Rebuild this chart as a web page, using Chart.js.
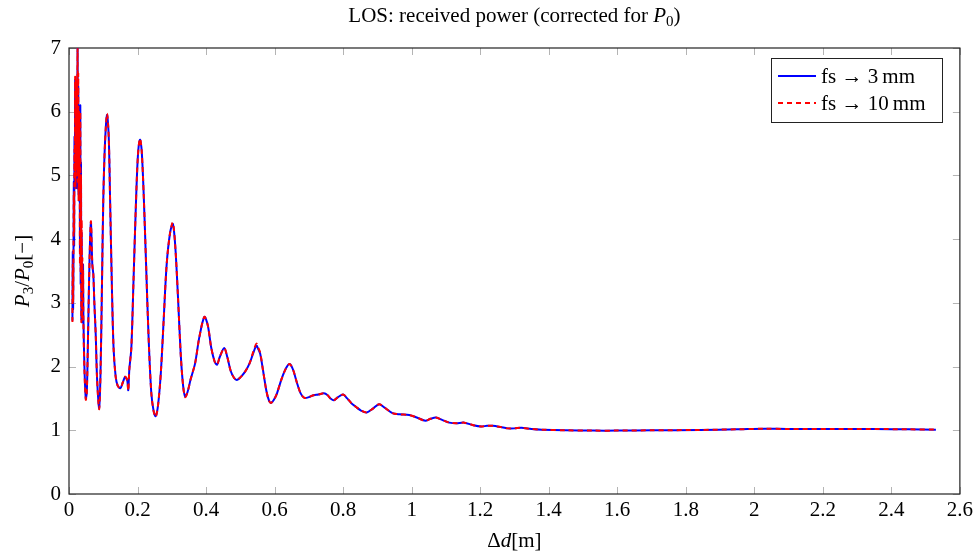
<!DOCTYPE html>
<html>
<head>
<meta charset="utf-8">
<script src="https://cdn.jsdelivr.net/npm/chart.js@4.4.1/dist/chart.umd.min.js"></script>
<style>
  html, body { margin: 0; padding: 0; background: #fff; }
  #wrap { width: 977px; height: 555px; }
</style>
</head>
<body>
<div id="wrap"><canvas id="losChart" width="977" height="555"></canvas></div>
<script>
// path length difference Δd [m]
const distance = [
  0.010, 0.011, 0.012, 0.013, 0.014, 0.015, 0.016, 0.017, 0.018, 0.019,
  0.020, 0.021, 0.022, 0.023, 0.024, 0.025, 0.026, 0.027, 0.028, 0.029,
  0.030, 0.031, 0.032, 0.033, 0.034, 0.035, 0.036, 0.037, 0.038, 0.039,
  0.040, 0.041, 0.042, 0.045, 0.049,
  0.052, 0.056, 0.060, 0.064, 0.068, 0.071, 0.074, 0.078, 0.082, 0.088,
  0.092, 0.096, 0.100, 0.105, 0.111, 0.116, 0.120, 0.125, 0.130, 0.136,
  0.142, 0.150, 0.157, 0.164, 0.170, 0.173, 0.176, 0.182, 0.188, 0.195,
  0.201, 0.207, 0.212, 0.218, 0.225, 0.232, 0.240, 0.247, 0.253, 0.260,
  0.268, 0.276, 0.285, 0.295, 0.303, 0.310, 0.318, 0.326, 0.333, 0.339,
  0.346, 0.355, 0.368, 0.380, 0.395, 0.405, 0.415, 0.425, 0.432, 0.440,
  0.453, 0.462, 0.472, 0.482, 0.490, 0.500, 0.514, 0.527, 0.537, 0.547,
  0.552, 0.558, 0.566, 0.576, 0.584, 0.590, 0.598, 0.607, 0.620, 0.634,
  0.644, 0.654, 0.665, 0.676, 0.687, 0.700, 0.714, 0.728, 0.744, 0.755,
  0.763, 0.773, 0.785, 0.800, 0.812, 0.825, 0.837, 0.852, 0.869, 0.887,
  0.905, 0.920, 0.944, 0.965, 0.993, 1.015, 1.040, 1.055, 1.071, 1.090,
  1.110, 1.130, 1.154, 1.180, 1.203, 1.220, 1.237, 1.260, 1.280, 1.300,
  1.320, 1.350, 1.380, 1.450, 1.530, 1.600, 1.700, 1.840, 1.950, 2.030,
  2.100, 2.230, 2.350, 2.450, 2.530
];

// P3/P0, free space -> 3 mm
const power3mm = [
  2.72, 3.80, 2.90, 3.60, 4.90, 3.90, 5.60, 4.80, 6.50, 5.00,
  6.40, 5.30, 6.30, 4.80, 6.00, 7.00, 5.10, 6.40, 4.70, 5.90,
  4.60, 6.00, 3.80, 6.10, 3.30, 5.20, 2.75, 4.10, 2.70, 3.60,
  3.30, 3.60, 2.80, 2.00, 1.50,
  1.60, 2.60, 3.70, 4.26, 3.60, 3.45, 3.00, 2.50, 1.80, 1.35,
  1.90, 3.20, 4.60, 5.50, 5.95, 5.60, 4.60, 3.30, 2.30, 1.85,
  1.70, 1.66, 1.75, 1.84, 1.78, 1.63, 1.95, 2.30, 3.30, 4.50,
  5.30, 5.56, 5.40, 4.70, 3.60, 2.50, 1.60, 1.30, 1.22, 1.40,
  1.90, 2.70, 3.60, 4.10, 4.24, 3.90, 3.10, 2.20, 1.70, 1.53,
  1.60, 1.80, 2.05, 2.45, 2.78, 2.65, 2.30, 2.08, 2.03, 2.15,
  2.29, 2.15, 1.93, 1.82, 1.79, 1.83, 1.92, 2.05, 2.20, 2.33,
  2.28, 2.20, 1.95, 1.62, 1.46, 1.43, 1.48, 1.58, 1.80, 1.98,
  2.04, 1.95, 1.75, 1.58, 1.51, 1.52, 1.55, 1.56, 1.58, 1.55,
  1.50, 1.47, 1.52, 1.56, 1.50, 1.42, 1.37, 1.31, 1.28, 1.34,
  1.41, 1.36, 1.27, 1.25, 1.24, 1.20, 1.15, 1.18, 1.20, 1.16,
  1.12, 1.11, 1.12, 1.08, 1.06, 1.07, 1.07, 1.05, 1.03, 1.03,
  1.04, 1.02, 1.01, 1.00, 0.995, 0.995, 1.00, 1.005, 1.015, 1.025,
  1.02, 1.02, 1.02, 1.015, 1.01
];

// P3/P0, free space -> 10 mm
const power10mm = [
  2.70, 3.60, 3.00, 3.80, 4.70, 4.10, 5.40, 5.00, 6.55, 4.80,
  6.50, 5.10, 6.10, 5.00, 6.20, 7.00, 4.90, 6.60, 4.60, 6.00,
  4.80, 5.80, 3.60, 6.00, 3.50, 5.00, 2.70, 4.30, 2.75, 3.70,
  3.20, 3.50, 2.70, 1.95, 1.48,
  1.60, 2.60, 3.70, 4.28, 3.62, 3.45, 3.00, 2.50, 1.80, 1.33,
  1.90, 3.20, 4.60, 5.50, 5.97, 5.60, 4.60, 3.30, 2.30, 1.85,
  1.70, 1.66, 1.75, 1.84, 1.78, 1.62, 1.95, 2.30, 3.30, 4.50,
  5.30, 5.58, 5.40, 4.70, 3.60, 2.50, 1.60, 1.30, 1.21, 1.40,
  1.90, 2.70, 3.60, 4.10, 4.26, 3.90, 3.10, 2.20, 1.70, 1.52,
  1.60, 1.80, 2.05, 2.45, 2.78, 2.65, 2.30, 2.08, 2.03, 2.15,
  2.29, 2.15, 1.93, 1.82, 1.79, 1.83, 1.92, 2.05, 2.22, 2.36,
  2.30, 2.22, 1.95, 1.62, 1.46, 1.43, 1.48, 1.58, 1.80, 1.98,
  2.04, 1.95, 1.75, 1.58, 1.51, 1.52, 1.55, 1.56, 1.58, 1.55,
  1.50, 1.47, 1.52, 1.56, 1.50, 1.42, 1.37, 1.31, 1.28, 1.34,
  1.41, 1.36, 1.27, 1.25, 1.24, 1.20, 1.15, 1.18, 1.20, 1.16,
  1.12, 1.11, 1.12, 1.08, 1.06, 1.07, 1.07, 1.05, 1.03, 1.03,
  1.04, 1.02, 1.01, 1.00, 0.995, 0.995, 1.00, 1.005, 1.015, 1.025,
  1.02, 1.02, 1.02, 1.015, 1.01
];

const xTicks = [0, 0.2, 0.4, 0.6, 0.8, 1, 1.2, 1.4, 1.6, 1.8, 2, 2.2, 2.4, 2.6];
const yTicks = [0, 1, 2, 3, 4, 5, 6, 7];

const SERIF = '"Liberation Serif", "DejaVu Serif", serif';

// draw text made of normal / italic / subscript pieces, centred on x
function drawRich(ctx, parts, x, y, size) {
  const fontFor = (k) => {
    if (k === "i") return "italic " + size + "px " + SERIF;
    if (k === "s") return Math.round(size * 0.7) + "px " + SERIF;
    return size + "px " + SERIF;
  };
  let total = 0;
  parts.forEach(([t, k]) => { ctx.font = fontFor(k); total += ctx.measureText(t).width; });
  let cx = x - total / 2;
  ctx.textAlign = "left";
  ctx.textBaseline = "alphabetic";
  parts.forEach(([t, k]) => {
    ctx.font = fontFor(k);
    ctx.fillText(t, cx, k === "s" ? y + size * 0.2 : y);
    cx += ctx.measureText(t).width;
  });
}

const framePlugin = {
  id: "frame",
  beforeDatasetsDraw(chart) {
    const { ctx, chartArea: a, scales } = chart;
    const len = 7;
    ctx.save();
    ctx.strokeStyle = "#b4b4b4";
    ctx.lineWidth = 1;
    ctx.beginPath();
    xTicks.forEach(v => {
      const px = Math.round(scales.x.getPixelForValue(v)) + 0.5;
      ctx.moveTo(px, a.bottom); ctx.lineTo(px, a.bottom - len);
      ctx.moveTo(px, a.top); ctx.lineTo(px, a.top + len);
    });
    yTicks.forEach(v => {
      const py = Math.round(scales.y.getPixelForValue(v)) + 0.5;
      ctx.moveTo(a.left, py); ctx.lineTo(a.left + len, py);
      ctx.moveTo(a.right, py); ctx.lineTo(a.right - len, py);
    });
    ctx.stroke();
    ctx.strokeStyle = "#222";
    ctx.lineWidth = 1.2;
    ctx.strokeRect(a.left, a.top, a.right - a.left, a.bottom - a.top);
    ctx.restore();
  },
  afterDraw(chart) {
    const { ctx, chartArea: a } = chart;
    ctx.save();
    ctx.fillStyle = "#000";
    const midX = (a.left + a.right) / 2;
    drawRich(ctx, [["LOS: received power (corrected for ", "n"], ["P", "i"], ["0", "s"], [")", "n"]], midX, 22, 21);
    drawRich(ctx, [["Δ", "n"], ["d", "i"], ["[m]", "n"]], midX, 547, 21);
    ctx.translate(29, (a.top + a.bottom) / 2);
    ctx.rotate(-Math.PI / 2);
    drawRich(ctx, [["P", "i"], ["3", "s"], ["/", "n"], ["P", "i"], ["0", "s"], ["[−]", "n"]], 0, 0, 21);
    ctx.restore();

    // legend box inside the plot area
    ctx.save();
    const bx = 771, by = 58, bw = 171, bh = 64;
    ctx.fillStyle = "#fff";
    ctx.fillRect(bx, by, bw, bh);
    ctx.strokeStyle = "#222";
    ctx.lineWidth = 1;
    ctx.strokeRect(bx + 0.5, by + 0.5, bw, bh);
    chart.data.datasets.forEach((ds, i) => {
      const ly = by + 18 + i * 27;
      ctx.beginPath();
      ctx.strokeStyle = ds.borderColor;
      ctx.lineWidth = 2;
      ctx.setLineDash(ds.borderDash || []);
      ctx.moveTo(bx + 7, ly);
      ctx.lineTo(bx + 45, ly);
      ctx.stroke();
      ctx.setLineDash([]);
      ctx.fillStyle = "#000";
      ctx.font = "21px " + SERIF;
      ctx.textAlign = "left";
      ctx.textBaseline = "middle";
      ctx.fillText(ds.label, bx + 50, ly + 1);
    });
    ctx.restore();
  }
};

const toPoints = (ys) => distance.map((x, i) => ({ x: x, y: ys[i] }));

new Chart(document.getElementById("losChart"), {
  type: "line",
  data: {
    datasets: [
      {
        label: "fs → 3\u2009mm",
        data: toPoints(power3mm),
        borderColor: "#0000ff",
        borderWidth: 2,
        pointRadius: 0,
        tension: 0.3,
        order: 2
      },
      {
        label: "fs → 10\u2009mm",
        data: toPoints(power10mm),
        borderColor: "#ff0000",
        borderWidth: 2,
        borderDash: [5, 4],
        pointRadius: 0,
        tension: 0.3,
        order: 1
      }
    ]
  },
  options: {
    responsive: false,
    animation: false,
    layout: { padding: { top: 48, right: 16, left: 0, bottom: 0 } },
    plugins: { legend: { display: false }, title: { display: false }, tooltip: { enabled: false } },
    scales: {
      x: {
        type: "linear",
        min: 0,
        max: 2.6,
        afterBuildTicks: (s) => { s.ticks = xTicks.map(v => ({ value: v })); },
        afterFit: (s) => { s.height = 61; },
        grid: { display: false, drawTicks: false },
        border: { display: false },
        ticks: {
          padding: 4,
          color: "#000",
          maxRotation: 0,
          font: { family: SERIF, size: 21 },
          callback: (v) => String(Math.round(v * 10) / 10)
        }
      },
      y: {
        min: 0,
        max: 7,
        afterBuildTicks: (s) => { s.ticks = yTicks.map(v => ({ value: v })); },
        afterFit: (s) => { s.width = 69; },
        grid: { display: false, drawTicks: false },
        border: { display: false },
        ticks: {
          padding: 8,
          color: "#000",
          font: { family: SERIF, size: 21 }
        }
      }
    }
  },
  plugins: [framePlugin]
});
</script>
</body>
</html>
